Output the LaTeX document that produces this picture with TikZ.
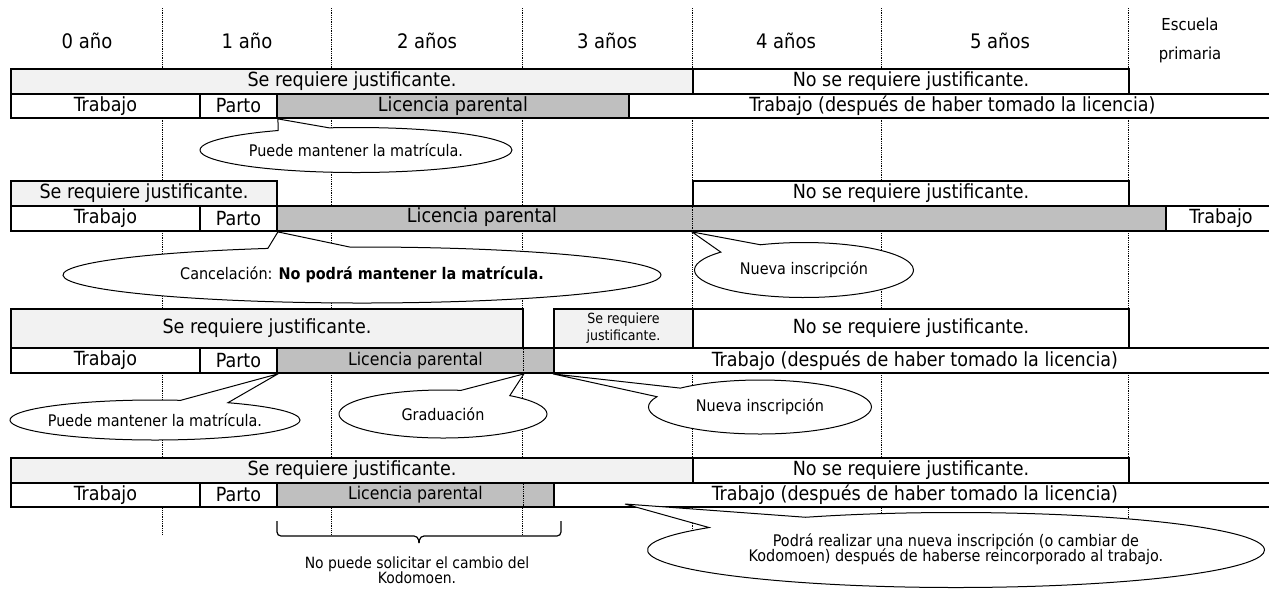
\documentclass[tikz,border=0pt]{standalone}
\usepackage{fontspec}
\setmainfont{DejaVu Sans Condensed}
\usetikzlibrary{shapes.callouts,calc}
\definecolor{lightg}{HTML}{F2F2F2}
\definecolor{midg}{HTML}{BFBFBF}
\newcommand\cellnode[7]{%
  \node[cellbox,#6,minimum width={(#4-#2)*1pt},minimum height={(#5-#3)*1pt}] (#1) at (#2,#3) {#7};}
\newcommand\zw[1]{\makebox[0pt][c]{#1}}
\begin{document}
\begin{tikzpicture}[x=1pt,y=-1pt,
  cellbox/.style={draw,line width=1.9pt,fill=white,inner sep=0pt,anchor=north west,font=\fontsize{19.5}{21}\selectfont},
  hdr/.style={font=\fontsize{20}{22}\selectfont,inner sep=0pt},
  guide/.style={line width=0.9pt,dash pattern=on 0.9pt off 0.9pt},
  bracket/.style={line width=1.2pt,rounded corners=4pt},
  bubble/.style={ellipse callout,draw,line width=1pt,fill=white,inner sep=0pt,font=\fontsize{16}{18}\selectfont,callout pointer arc=20}]
\useasboundingbox (0,0) rectangle (1269,590);
% guides
\foreach \gx in {162,331,522,692,881,1128}{\draw[guide] (\gx,8) -- (\gx,535);}
% header
\node[hdr] (h0) at (87,41) {0 año};
\node[hdr] (h1) at (247,41) {1 año};
\node[hdr] (h2) at (427,41) {2 años};
\node[hdr] (h3) at (607,41) {3 años};
\node[hdr] (h4) at (786,41) {4 años};
\node[hdr] (h5) at (1000,41) {5 años};
\node[hdr,font=\fontsize{16.5}{29}\selectfont,align=center] (h6) at (1190,40) {Escuela\\primaria};
% row 1
\cellnode{r1a}{10}{68}{692}{93}{fill=lightg}{Se requiere justificante.}
\cellnode{r1n}{692}{68}{1128}{93}{}{No se requiere justificante.}
\cellnode{r1t}{10}{93}{199}{117}{}{Trabajo}
\cellnode{r1p}{199}{93}{276}{117}{}{Parto}
\cellnode{r1l}{276}{93}{628}{117}{fill=midg}{Licencia parental}
\cellnode{r1w}{628}{93}{1275}{117}{}{Trabajo (después de haber tomado la licencia)}
\node[bubble,minimum width=312pt,minimum height=45pt,callout absolute pointer={(r1p.south east)}] (c1) at (356,150) {\zw{Puede mantener la matrícula.}};
% row 2
\cellnode{r2a}{10}{180}{276}{205}{fill=lightg}{Se requiere justificante.}
\cellnode{r2n}{692}{180}{1128}{205}{}{No se requiere justificante.}
\cellnode{r2t}{10}{205}{199}{230}{}{Trabajo}
\cellnode{r2p}{199}{205}{276}{230}{}{Parto}
\cellnode{r2l}{276}{205}{1165}{230}{fill=midg}{}
\cellnode{r2w}{1165}{205}{1275}{230}{}{Trabajo}
\node[font=\fontsize{19.5}{21}\selectfont,inner sep=0pt] (r2lt) at (482,217.5) {Licencia parental};
\draw[guide] (r2n.west |- r2l.north) -- (r2n.west |- r2l.south);
\node[bubble,minimum width=598pt,minimum height=56pt,callout pointer arc=16,callout absolute pointer={(r2p.south east)}] (c2) at (362,275) {\zw{Cancelación: \textbf{No podrá mantener la matrícula.}}};
\node[bubble,minimum width=219pt,minimum height=55pt,callout pointer arc=26,callout absolute pointer={(r2n.west |- r2l.south)}] (c3) at (804,270) {\zw{Nueva inscripción}};
% row 3
\cellnode{r3a}{10}{308}{522}{347}{fill=lightg}{Se requiere justificante.}
\cellnode{r3s}{553}{308}{692}{347}{fill=lightg,font=\fontsize{14}{17}\selectfont,align=center}{Se requiere\\justificante.}
\cellnode{r3n}{692}{308}{1128}{347}{}{No se requiere justificante.}
\cellnode{r3t}{10}{347}{199}{372}{}{Trabajo}
\cellnode{r3p}{199}{347}{276}{372}{}{Parto}
\cellnode{r3l}{276}{347}{553}{372}{fill=midg,font=\fontsize{17.5}{19}\selectfont}{Licencia parental}
\cellnode{r3w}{553}{347}{1275}{372}{}{Trabajo (después de haber tomado la licencia)}
\draw[guide] (r3a.east |- r3l.north) -- (r3a.east |- r3l.south);
\node[bubble,minimum width=290pt,minimum height=40pt,callout absolute pointer={(r3p.south east)}] (c4) at (155,420) {\zw{Puede mantener la matrícula.}};
\node[bubble,minimum width=208pt,minimum height=48pt,callout pointer arc=30,callout absolute pointer={(r3a.east |- r3l.south)}] (c5) at (443,414) {\zw{Graduación}};
\node[bubble,minimum width=223pt,minimum height=54pt,callout pointer arc=22,callout absolute pointer={(r3w.south west)}] (c6) at (760,407) {\zw{Nueva inscripción}};
% row 4
\cellnode{r4a}{10}{457}{692}{482}{fill=lightg}{Se requiere justificante.}
\cellnode{r4n}{692}{457}{1128}{482}{}{No se requiere justificante.}
\cellnode{r4t}{10}{482}{199}{506}{}{Trabajo}
\cellnode{r4p}{199}{482}{276}{506}{}{Parto}
\cellnode{r4l}{276}{482}{553}{506}{fill=midg,font=\fontsize{17.5}{19}\selectfont}{Licencia parental}
\cellnode{r4w}{553}{482}{1275}{506}{}{Trabajo (después de haber tomado la licencia)}
\draw[guide] (r3a.east |- r4l.north) -- (r3a.east |- r4l.south);
% bracket
\coordinate (bl) at (277,521);
\coordinate (br) at (561,521);
\coordinate (bm) at ($(bl)!0.5!(br)$);
\draw[bracket] (bl) -- ++(0,15) -- ($(bm)+(-1,15)$) -- ($(bm)+(0,22)$);
\draw[bracket] (br) -- ++(0,15) -- ($(bm)+(1,15)$) -- ($(bm)+(0,22)$);
\node[font=\fontsize{15.5}{15.5}\selectfont,align=center,inner sep=0pt] (bt) at (417,570) {No puede solicitar el cambio del\\Kodomoen.};
% big callout
\coordinate (t7) at (625,504);
\node[bubble,minimum width=617pt,minimum height=75pt,callout pointer arc=24,callout absolute pointer={(t7)}] (c7) at (956,550) {\zw{\begin{tabular}{@{}c@{}}Podrá realizar una nueva inscripción (o cambiar de\\[-3pt]Kodomoen) después de haberse reincorporado al trabajo.\end{tabular}}};
\end{tikzpicture}
\end{document}
